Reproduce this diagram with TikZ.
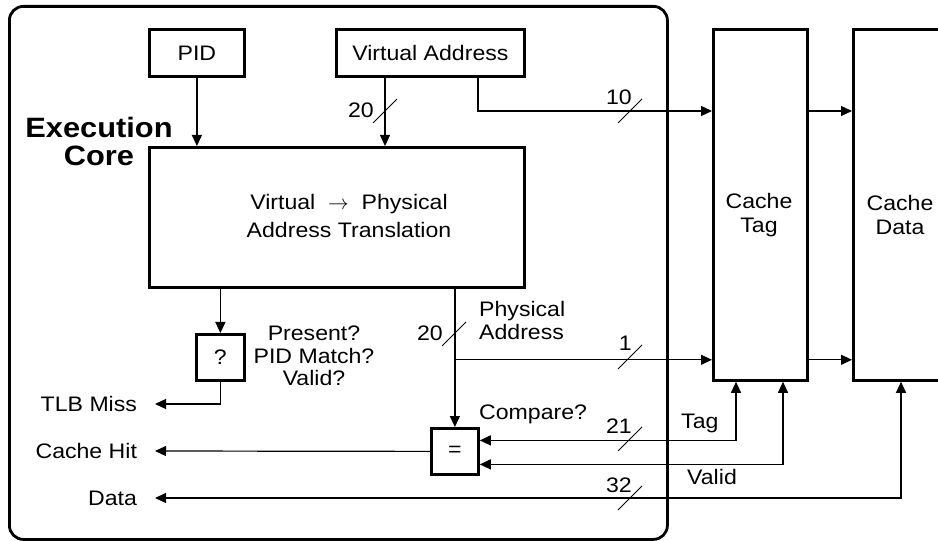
\documentclass[tikz,border=0pt]{standalone}
\usepackage{fontspec}
\setmainfont{Liberation Sans}[FakeStretch=1.1]
\usetikzlibrary{arrows.meta,calc}
\begin{document}
\begin{tikzpicture}[x=1bp,y=-1bp,
  every node/.style={font=\fontsize{21bp}{23bp}\selectfont,inner sep=0pt},
  box/.style={draw,line width=2.8bp,anchor=north west},
  wire/.style={line width=1.2bp},
  arr/.style={wire,-{Triangle[length=11bp,width=10bp]}},
  darr/.style={wire,{Triangle[length=11bp,width=10bp]}-{Triangle[length=11bp,width=10bp]}},
  busmark/.style={line width=1bp},
  outlbl/.style={anchor=east,outer xsep=18bp}]
\useasboundingbox (0,0) rectangle (938,541);
\begin{scope}
\clip (0,0) rectangle (938,541);
% outer core
\node[box,rounded corners=14bp,minimum width=658bp,minimum height=533bp] (core) at (8,5) {};
\node[font=\bfseries\fontsize{28bp}{28bp}\selectfont,align=center] (ec) at (99,141) {Execution\\Core};
% boxes
\node[box,minimum width=95bp,minimum height=47bp] (pid) at (148,28) {PID};
\node[box,minimum width=188bp,minimum height=47bp] (va) at (335,28) {Virtual Address};
\node[box,minimum width=375bp,minimum height=140bp] (trans) at (148,146) {};
\node[align=center,font=\fontsize{21bp}{28bp}\selectfont] (transtxt) at (349,216) {Virtual~~$\rightarrow$~~Physical\\Address Translation};
\node[box,minimum width=48bp,minimum height=46bp] (q) at (195,333) {?};
\node[box,minimum width=47bp,minimum height=46bp] (eq) at (430,427) {=};
\node[box,minimum width=94bp,minimum height=351bp] (tag) at (712,28) {};
\node[align=center,font=\fontsize{21bp}{24bp}\selectfont] (tagtxt) at (759,215) {Cache\\Tag};
\node[box,minimum width=100bp,minimum height=351bp] (data) at (852,28) {};
\node[align=center,font=\fontsize{21bp}{24bp}\selectfont] (datatxt) at (900,215) {Cache\\Data};
% texts
\node[align=center,font=\fontsize{21bp}{22.5bp}\selectfont] (ptxt) at (314,356) {Present?\\PID Match?\\Valid?};
\node[align=left,anchor=west] (phys) at (479,320.5) {Physical\\Address};
\node[anchor=west] (cmp) at (479,414) {Compare?};
\node[anchor=west] (tagl) at (681,423) {Tag};
\node[anchor=west] (validl) at (687,477) {Valid};
\node[outlbl] (tlb) at (155,404) {TLB Miss};
\node[outlbl] (hit) at (155,451) {Cache Hit};
\node[outlbl] (dout) at (155,498) {Data};
% coordinates
\coordinate (vaout) at ([xshift=50bp]va.south west);
\coordinate (vaout2) at ([xshift=143bp]va.south west);
\coordinate (tagin1) at ([yshift=-83bp]tag.north west);
\coordinate (tagin2) at ([yshift=22bp]tag.south west);
\coordinate (tagout) at ([xshift=24bp]tag.south west);
\coordinate (validout) at ([xshift=71bp]tag.south west);
\coordinate (dataout) at ([xshift=49bp]data.south west);
% connectors
\draw[arr] (pid.south) -- (pid.south |- trans.north);
\draw[arr] (vaout) -- (vaout |- trans.north);
\draw[arr] (vaout2) |- (tagin1);
\draw[arr] ([yshift=-83bp]tag.north east) -- ([yshift=-83bp]data.north west);
\draw[arr] ([yshift=22bp]tag.south east) -- ([yshift=22bp]data.south west);
\draw[arr] (trans.south -| q.north) -- (q.north);
\draw[arr] (q.south) |- (tlb.east);
\draw[arr] (trans.south -| eq.north) -- (eq.north);
\draw[arr] (eq.north |- tagin2) -- (tagin2);
\draw[arr] (eq.west) -- (hit.east);
\draw[darr] (tagout) |- ([yshift=11bp]eq.east);
\draw[darr] (validout) |- ([yshift=-13bp]eq.east);
\draw[darr] (dataout) |- (dout.east);
% bus marks
\foreach \p/\n in {{630,111}/10,{630,357}/1,{630,439}/21,{630,498}/32}{
  \draw[busmark] (\p) ++(-12,12) -- ++(24,-24);
  \node[anchor=base east] at ($(\p)+(2,-6)$) {\n};
}
\foreach \p in {{385,111},{454,334}}{
  \draw[busmark] (\p) ++(-12,12) -- ++(24,-24);
  \node[anchor=base east] at ($(\p)+(-11,7)$) {20};
}
\end{scope}
\end{tikzpicture}
\end{document}
